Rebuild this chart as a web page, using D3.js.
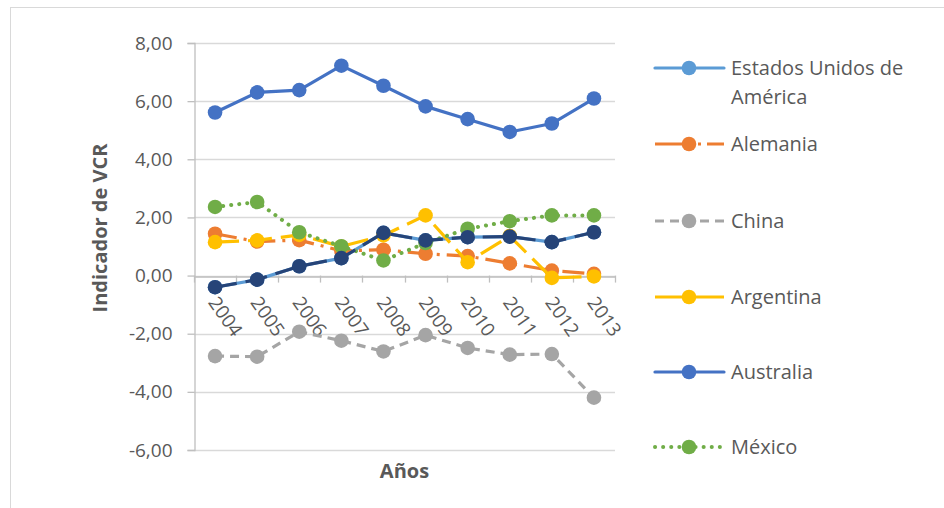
<!DOCTYPE html>
<html><head><meta charset="utf-8">
<script src="https://cdn.jsdelivr.net/npm/d3@7"></script>
<style>body{margin:0;background:#fff}svg{display:block}text{font-family:"Open Sans",sans-serif;fill:#595959}</style>
</head><body><svg id="c" width="944" height="508"></svg>
<script>
const years = ["2004","2005","2006","2007","2008","2009","2010","2011","2012","2013"];
const eeuu      = [-0.40,-0.14,0.32,0.60,1.47,1.21,1.32,1.34,1.15,1.49];
const alemania  = [1.44,1.17,1.22,0.85,0.89,0.75,0.67,0.42,0.17,0.06];
const china     = [-2.77,-2.79,-1.93,-2.24,-2.61,-2.05,-2.49,-2.72,-2.70,-4.20];
const argentina = [1.15,1.21,1.40,1.00,1.38,2.07,0.46,1.36,-0.08,-0.03];
const australia = [5.61,6.30,6.38,7.22,6.53,5.82,5.38,4.94,5.23,6.09];
const mexico    = [2.36,2.53,1.49,1.01,0.52,1.12,1.61,1.87,2.07,2.07];
const serie7    = [-0.40,-0.14,0.32,0.60,1.47,1.21,1.32,1.34,1.15,1.49];
const yTicks = [-6,-4,-2,0,2,4,6,8];
const seriesNames = ["Estados Unidos de América","Alemania","China","Argentina","Australia","México"];

const series = [
  {name:"Estados Unidos de América", values:eeuu, color:"#5B9BD5", dash:null, cap:"round", legend:true},
  {name:"Alemania", values:alemania, color:"#ED7D31", dash:"22,7,3,7", cap:"butt", legend:true},
  {name:"China", values:china, color:"#A5A5A5", dash:"9,6", cap:"butt", legend:true},
  {name:"Argentina", values:argentina, color:"#FFC000", dash:"24,9", cap:"butt", legend:true, legendSolid:true},
  {name:"Australia", values:australia, color:"#4472C4", dash:null, cap:"round", legend:true},
  {name:"México", values:mexico, color:"#70AD47", dash:"0.1,8", cap:"round", legend:true, dotted:true},
  {name:"", values:serie7, color:"#264478", dash:"22,9", cap:"butt", legend:false}
];

const svg = d3.select("#c");
const L=194, R=615, T=43, B=450;
const x = d3.scaleBand().domain(years).range([L,R]);
const y = d3.scaleLinear().domain([-6,8]).range([B,T]);
const fmt = v => d3.format(".2f")(v).replace(".",",").replace("\u2212","-");

// chart border
svg.append("rect").attr("x",10.5).attr("y",7.5).attr("width",940).attr("height",520)
  .attr("fill","none").attr("stroke","#d9d9d9");

// gridlines
svg.append("g").selectAll("line").data(yTicks).join("line")
  .attr("x1",L).attr("x2",R).attr("y1",d=>Math.round(y(d))+0.5).attr("y2",d=>Math.round(y(d))+0.5)
  .attr("stroke","#d9d9d9").attr("stroke-width",1.3);

// y axis
const ya = svg.append("g").attr("transform",`translate(${L+0.5},0)`)
  .call(d3.axisLeft(y).tickValues(yTicks).tickSize(7).tickPadding(15).tickFormat(fmt));
ya.select(".domain").attr("stroke","#bfbfbf").attr("stroke-width",1.3);
ya.selectAll(".tick line").attr("stroke","#bfbfbf").attr("stroke-width",1.3);
ya.selectAll(".tick text").style("font-size","19px").attr("fill","#595959").attr("font-family","Open Sans");

// x axis at zero
const xa = svg.append("g").attr("transform",`translate(0,${Math.round(y(0))+0.5})`)
  .call(d3.axisBottom(x).tickSize(0).tickFormat(""));
xa.select(".domain").attr("stroke","#bfbfbf").attr("stroke-width",1.3);
svg.append("g").selectAll("line").data(years.concat(["end"])).join("line")
  .attr("x1",(d,i)=>Math.round(L+i*x.step())+0.5).attr("x2",(d,i)=>Math.round(L+i*x.step())+0.5)
  .attr("y1",y(0)).attr("y2",y(0)+7).attr("stroke","#bfbfbf").attr("stroke-width",1.3);

// x labels rotated
svg.append("g").selectAll("text").data(years).join("text")
  .attr("transform",d=>`translate(${x(d)+x.bandwidth()/2-2},${y(0)+23}) rotate(55)`)
  .attr("dy","0.35em").attr("text-anchor","start").style("font-size","19px").text(d=>d);

// lines and markers
const line = d3.line().x((d,i)=>x(years[i])+x.bandwidth()/2).y(d=>y(d));
series.forEach(s=>{
  const g = svg.append("g");
  g.append("path").attr("d",line(s.values)).attr("fill","none").attr("stroke",s.color)
    .attr("stroke-width",s.dotted?4:3.2).attr("stroke-dasharray",s.dash).attr("stroke-linecap",s.cap)
    .attr("stroke-linejoin","round");
  g.selectAll("circle").data(s.values).join("circle")
    .attr("cx",(d,i)=>x(years[i])+x.bandwidth()/2).attr("cy",d=>y(d)).attr("r",7.3).attr("fill",s.color);
});

// axis titles
svg.append("text").attr("transform","translate(100,228) rotate(-90)").attr("text-anchor","middle")
  .attr("dy","0.35em").style("font-size","20px").style("font-weight","bold").text("Indicador de VCR");
svg.append("text").attr("x",(L+R)/2).attr("y",471).attr("text-anchor","middle").attr("dy","0.35em")
  .style("font-size","20px").style("font-weight","bold").text("Años");

// legend
const legY = [68,144,221,297,372,447];
const lg = svg.append("g");
series.filter(s=>s.legend).forEach((s,i)=>{
  const yy = legY[i];
  lg.append("line").attr("x1",655).attr("x2",724).attr("y1",yy).attr("y2",yy).attr("stroke",s.color)
    .attr("stroke-width",s.dotted?4:3.2).attr("stroke-dasharray",s.legendSolid?null:(s.name==="Alemania"?"37,6,3,6":s.dash))
    .attr("stroke-linecap",s.cap);
  lg.append("circle").attr("cx",689).attr("cy",yy).attr("r",7.3).attr("fill",s.color);
  if(s.name==="Estados Unidos de América"){
    const t = lg.append("text").attr("x",731).attr("y",yy).attr("dy","0.35em").style("font-size","20px");
    t.append("tspan").attr("x",731).text("Estados Unidos de");
    t.append("tspan").attr("x",731).attr("dy","29px").text("América");
  } else {
    lg.append("text").attr("x",731).attr("y",yy).attr("dy","0.35em").style("font-size","20px").text(s.name);
  }
});
</script></body></html>
